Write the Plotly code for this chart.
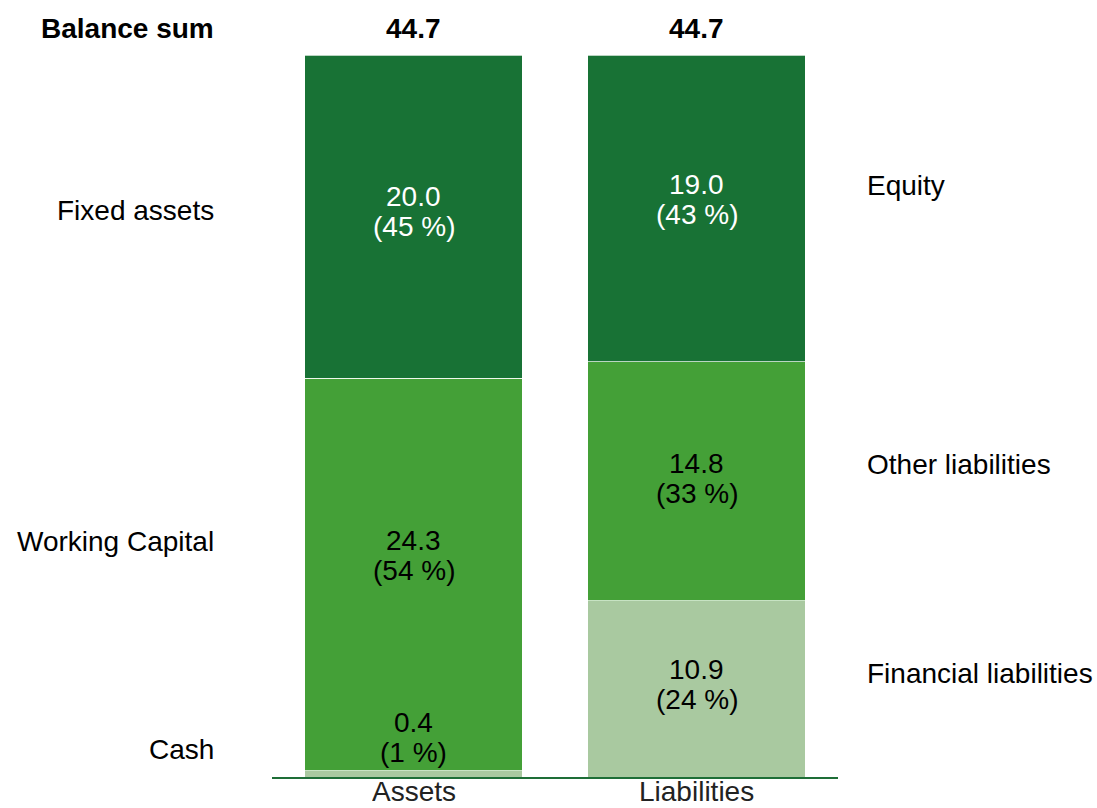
import plotly.graph_objects as go

# ---------------- data ----------------
columns = ["Assets", "Liabilities"]
bottom_names = ["Cash", "Financial liabilities"]
middle_names = ["Working Capital", "Other liabilities"]
top_names = ["Fixed assets", "Equity"]
bottom_values = [0.4, 10.9]
middle_values = [24.3, 14.8]
top_values = [20.0, 19.0]
balance_sum = [44.7, 44.7]

# ---------------- styling ----------------
colors = {"bottom": "#a9c9a0", "middle": "#44a037", "top": "#187235"}
text_colors = {"bottom": "black", "middle": "black", "top": "white"}
FONT = "Liberation Sans, Arial, sans-serif"
FS = 28

# pixel shifts (up) of value labels and side labels relative to segment centres
value_shift = {"bottom": [36, 4], "middle": [19, 3], "top": [5, 9]}
side_shift = {"bottom": [24, 15], "middle": [33, 17], "top": [6, 23]}
LEFT_X = -0.0989   # paper coords of left label column (right edge)
RIGHT_X = 1.0477   # paper coords of right label column (left edge)

fig = go.Figure()
levels = [("bottom", bottom_values, bottom_names),
          ("middle", middle_values, middle_names),
          ("top", top_values, top_names)]
for lvl, vals, names in levels:
    fig.add_trace(go.Bar(
        x=columns, y=vals, name=lvl, width=0.77,
        marker=dict(color=colors[lvl], line=dict(color="rgba(255,255,255,0.7)", width=1)),
        hoverinfo="skip", showlegend=False,
    ))

annotations = []
base = [0.0, 0.0]
for lvl, vals, names in levels:
    for i, col in enumerate(columns):
        mid = base[i] + vals[i] / 2
        pct = int(vals[i] / balance_sum[i] * 100 + 0.5)
        s = value_shift[lvl][i]
        annotations.append(dict(x=col, y=mid, xref="x", yref="y", text=f"{vals[i]:.1f}",
                                showarrow=False, yshift=s + 15,
                                font=dict(family=FONT, size=FS, color=text_colors[lvl])))
        annotations.append(dict(x=col, y=mid, xref="x", yref="y", text=f"({pct} %)",
                                showarrow=False, yshift=s - 15,
                                font=dict(family=FONT, size=FS, color=text_colors[lvl])))
        ss = side_shift[lvl][i]
        if i == 0:
            annotations.append(dict(x=LEFT_X, y=mid, xref="paper", yref="y", text=names[i],
                                    showarrow=False, xanchor="right", yshift=ss,
                                    font=dict(family=FONT, size=FS, color="black")))
        else:
            annotations.append(dict(x=RIGHT_X, y=mid, xref="paper", yref="y", text=names[i],
                                    showarrow=False, xanchor="left", yshift=ss,
                                    font=dict(family=FONT, size=FS, color="black")))
        base[i] += vals[i]

top_y = max(balance_sum)
for i, col in enumerate(columns):
    annotations.append(dict(x=col, y=top_y, xref="x", yref="y", text=f"<b>{balance_sum[i]:.1f}</b>",
                            showarrow=False, yshift=27,
                            font=dict(family=FONT, size=FS, color="black")))
    # category label under the axis line
    annotations.append(dict(x=col, y=0, xref="x", yref="y", text=col,
                            showarrow=False, yanchor="middle", yshift=-14,
                            height=24, valign="middle", borderpad=0,
                            font=dict(family=FONT, size=FS, color="#222222")))
annotations.append(dict(x=LEFT_X, y=top_y, xref="paper", yref="y", text="<b>Balance sum</b>",
                        showarrow=False, xanchor="right", yshift=27,
                        font=dict(family=FONT, size=FS, color="black")))

fig.update_layout(
    width=1097, height=808,
    margin=dict(l=272, r=259, t=55, b=31, pad=0),
    barmode="stack",
    paper_bgcolor="white", plot_bgcolor="white",
    annotations=annotations,
    font=dict(family=FONT, size=FS, color="black"),
    xaxis=dict(range=[-0.5, 1.5], showline=True, linecolor="#1e6e37", linewidth=2,
               ticks="", showticklabels=False, showgrid=False, zeroline=False,
               automargin=False),
    yaxis=dict(range=[0, 44.7], visible=False, showgrid=False, zeroline=False,
               automargin=False),
)

fig.write_html(
    "out.html",
    config={"displayModeBar": False},
    post_script="document.body.style.margin='0';document.body.style.overflow='hidden';",
)
